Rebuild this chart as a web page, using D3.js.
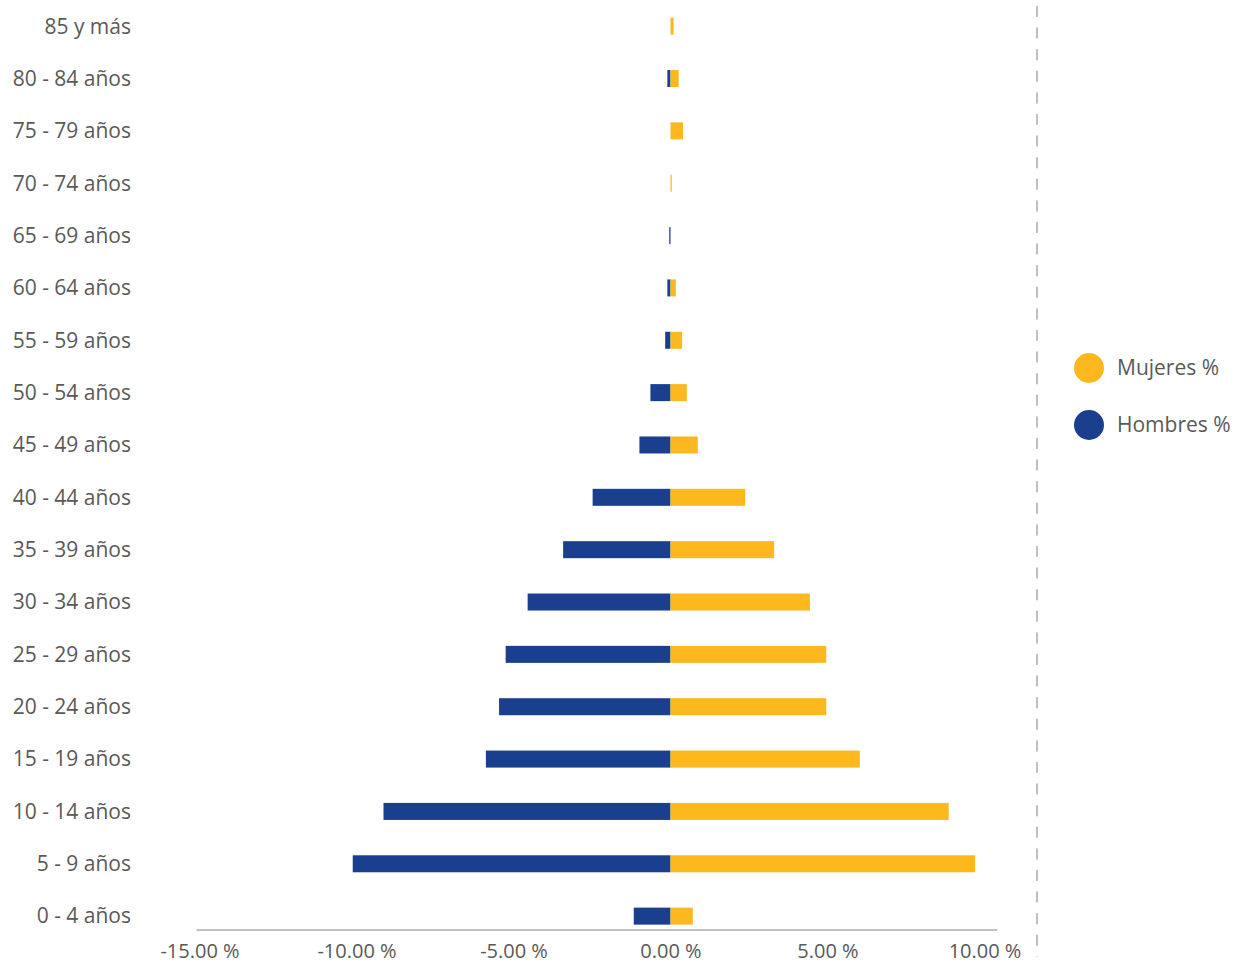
<!DOCTYPE html>
<html lang="es">
<head>
  <meta charset="UTF-8">
  <script src="https://d3js.org/d3.v7.min.js"></script>
  <title>Pirámide de población</title>
  <style>
    body {
      margin: 0;
      background: #fff;
      font-family: "Open Sans", sans-serif;
      overflow: hidden;
    }
  </style>
</head>
<body>
<script>
  // Age groups, top to bottom
  const ageGroups = [
    "85 y más", "80 - 84 años", "75 - 79 años", "70 - 74 años", "65 - 69 años",
    "60 - 64 años", "55 - 59 años", "50 - 54 años", "45 - 49 años", "40 - 44 años",
    "35 - 39 años", "30 - 34 años", "25 - 29 años", "20 - 24 años", "15 - 19 años",
    "10 - 14 años", "5 - 9 años", "0 - 4 años"
  ];
  // Percentages
  const hombres = [0, 0.10, 0, 0, 0.04, 0.10, 0.17, 0.64, 0.99, 2.48,
                   3.42, 4.55, 5.25, 5.46, 5.88, 9.14, 10.12, 1.17];
  const mujeres = [0.10, 0.26, 0.40, 0.04, 0, 0.17, 0.37, 0.52, 0.87, 2.38,
                   3.30, 4.44, 4.96, 4.96, 6.03, 8.86, 9.70, 0.71];
  const tickValues = [-15, -10, -5, 0, 5, 10];
  const legendItems = [
    { name: "Mujeres %", color: "#fdb81e" },
    { name: "Hombres %", color: "#1b3f8f" }
  ];

  const width = 1239, height = 969;
  const colorMujeres = "#fdb81e", colorHombres = "#1b3f8f";
  const textColor = "#595959";

  const svg = d3.select("body").append("svg")
    .attr("width", width)
    .attr("height", height);

  // x: 31.4 px per percent, zero at 670.5
  const x = d3.scaleLinear()
    .domain([-15, 10])
    .range([670.5 - 15 * 31.4, 670.5 + 10 * 31.4]);

  const y = d3.scaleBand()
    .domain(ageGroups)
    .range([0, 942.3])
    .paddingInner(0.675)
    .paddingOuter(0.3375);

  // Bars
  svg.append("g").selectAll("rect")
    .data(ageGroups)
    .enter().append("rect")
    .attr("x", (d, i) => x(-hombres[i]))
    .attr("y", d => y(d))
    .attr("width", (d, i) => x(0) - x(-hombres[i]))
    .attr("height", y.bandwidth())
    .attr("fill", colorHombres);

  svg.append("g").selectAll("rect")
    .data(ageGroups)
    .enter().append("rect")
    .attr("x", x(0))
    .attr("y", d => y(d))
    .attr("width", (d, i) => x(mujeres[i]) - x(0))
    .attr("height", y.bandwidth())
    .attr("fill", colorMujeres);

  // Category labels
  svg.append("g").selectAll("text")
    .data(ageGroups)
    .enter().append("text")
    .attr("x", 131)
    .attr("y", d => y(d) + y.bandwidth() / 2)
    .attr("dy", "0.35em")
    .attr("text-anchor", "end")
    .attr("font-size", 21)
    .attr("fill", textColor)
    .text(d => d);

  // Bottom axis
  const axis = svg.append("g")
    .attr("transform", "translate(0,930)")
    .call(d3.axisBottom(x)
      .tickValues(tickValues)
      .tickSize(0)
      .tickPadding(14)
      .tickFormat(d => d.toFixed(2) + " %"));

  axis.select(".domain")
    .attr("d", `M${x(-15.1)},0H${x(10.4)}`)
    .attr("stroke", "#bfbfbf")
    .attr("stroke-width", 2);

  axis.selectAll("text")
    .attr("font-family", "Open Sans, sans-serif")
    .attr("font-size", 20)
    .attr("fill", textColor);

  // Dashed separator
  svg.append("line")
    .attr("x1", 1037).attr("x2", 1037)
    .attr("y1", 6).attr("y2", 957)
    .attr("stroke", "#bfbfbf")
    .attr("stroke-width", 2)
    .attr("stroke-dasharray", "11,10.6");

  // Legend
  const legend = svg.append("g").selectAll("g")
    .data(legendItems)
    .enter().append("g")
    .attr("transform", (d, i) => `translate(1089,${368 + i * 57})`);

  legend.append("circle")
    .attr("r", 15)
    .attr("fill", d => d.color);

  legend.append("text")
    .attr("x", 28)
    .attr("dy", "0.35em")
    .attr("font-size", 21)
    .attr("fill", textColor)
    .text(d => d.name);
</script>
</body>
</html>
